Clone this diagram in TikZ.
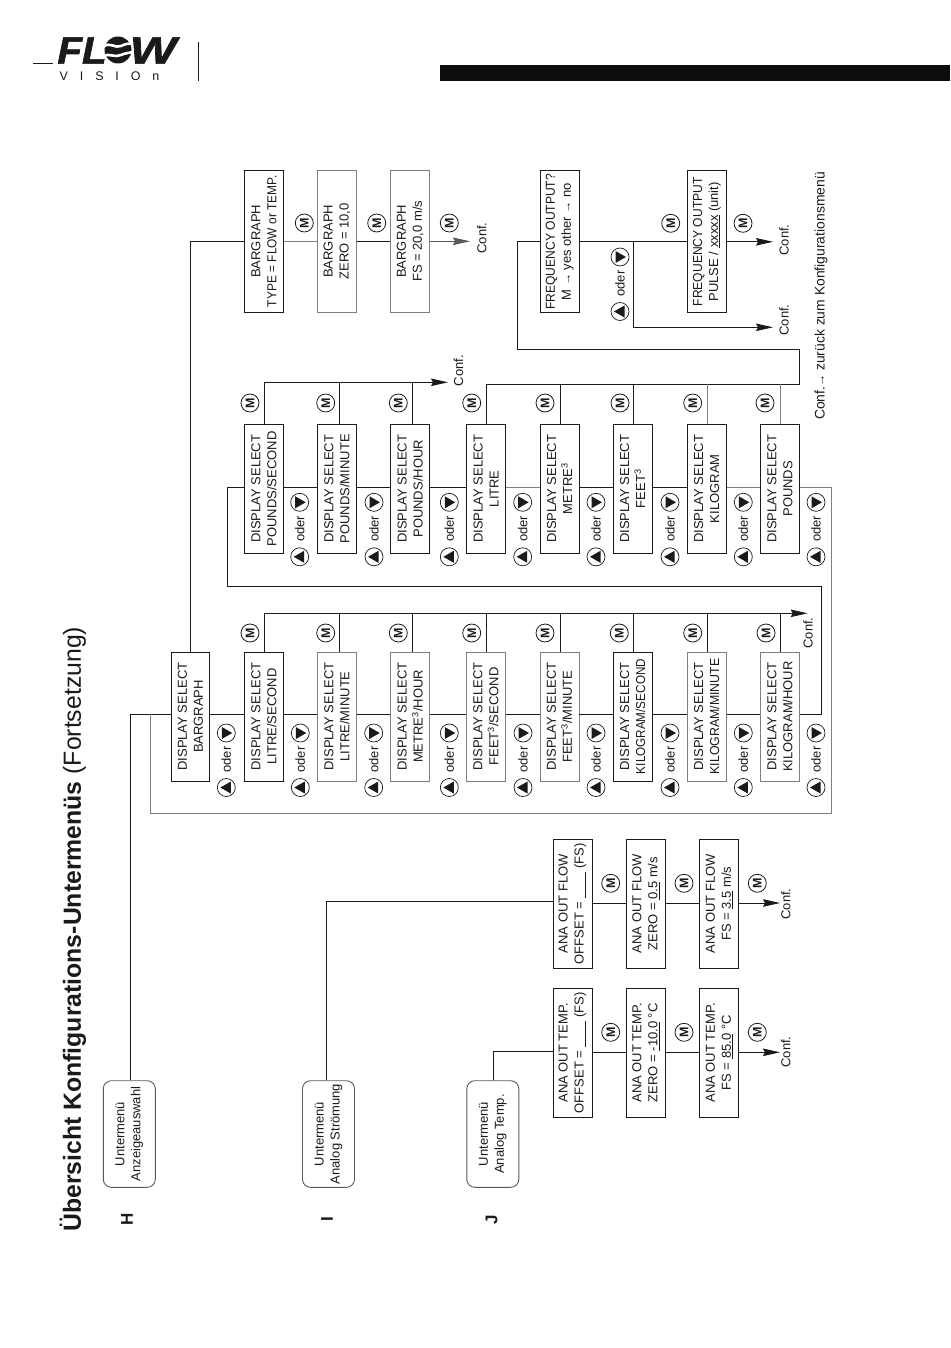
\documentclass[tikz,border=0pt]{standalone}
\usepackage{fontspec}
\usepackage{graphicx}
\setmainfont{Liberation Sans}
\newfontfamily\logofont[LetterSpace=95]{Liberation Sans}
\newfontfamily\logoheavy{Liberation Sans}[BoldItalicFeatures={FakeBold=1.6}]
\usetikzlibrary{arrows.meta,calc}
\definecolor{ink}{HTML}{1A1A1A}
\definecolor{soft}{HTML}{7F7F7F}
\newcommand\smallarrow{{\fontsize{12}{12}\selectfont →}}
\newcommand\narrowed[2]{\scalebox{#1}[1]{#2}}
\tikzset{
  x=1pt,y=-1pt,
  wire/.style={draw=ink,line width=0.9pt,line join=miter},
  softwire/.style={draw=soft,line width=1pt,line join=miter},
  confwire/.style={wire,-{Stealth[length=17pt,width=7.5pt,inset=2pt]}},
  labelbox/.style={rotate=90,draw=ink,line width=0.9pt,inner sep=0pt,align=center,text=ink,
    font=\fontsize{13}{16}\selectfont,minimum height=39pt,minimum width=129pt,fill=white},
  softbox/.style={labelbox,draw=soft},
  topbox/.style={minimum width=142pt},
  menubox/.style={labelbox,draw=soft!70!black,rounded corners=8pt,minimum height=52pt,minimum width=106.6pt,
    font=\fontsize{13}{16}\selectfont},
  mcircle/.style={circle,draw=ink,line width=0.8pt,minimum size=18pt,inner sep=0pt,rotate=90,
    font=\bfseries\fontsize{12.5}{12.5}\selectfont,text=ink},
  navcircle/.style={circle,draw=ink,line width=0.7pt,minimum size=18pt,inner sep=0pt},
  captiontext/.style={rotate=90,text=ink,inner sep=0pt,font=\fontsize{13}{16}\selectfont},
  lettertext/.style={rotate=90,text=ink,inner sep=0pt,font=\bfseries\fontsize{17}{17}\selectfont},
}
\newcommand\navpair[3]{%
  \node[navcircle] (#1r) at ({#2},{#3}) {};
  \fill[ink,shift={(#1r)}] (-4.5,-6) -- (6,0) -- (-4.5,6) -- cycle;
  \node[navcircle] (#1l) at ({#2},{#3+54.5}) {};
  \fill[ink,shift={(#1l)}] (4.5,-6) -- (-6,0) -- (4.5,6) -- cycle;
  \node[captiontext] (#1o) at ({#2},{#3+26.5}) {oder};
}
\begin{document}
\begin{tikzpicture}
\useasboundingbox (0,0) rectangle (950,1348);
% header
\fill[black!95] (440,65) rectangle (950,81);
\coordinate (logoa) at (33,63);
\coordinate (logob) at (53,63);
\draw[wire] (logoa) -- (logob);
\coordinate (sepa) at (198,42);
\coordinate (sepb) at (198,81);
\draw[wire] (sepa) -- (sepb);
\node[inner sep=0pt,text=ink,anchor=center,xscale=1.06,font=\logoheavy\bfseries\itshape\fontsize{38}{38}\selectfont] (logofl) at (82,50.5) {FL};
\node[inner sep=0pt,text=ink,anchor=center,xscale=1.3,font=\logoheavy\bfseries\itshape\fontsize{38}{38}\selectfont] (logow) at (153,50.5) {W};
\fill[ink] (118,50) ellipse (13.5 and 13.5);
\draw[white,line width=2.6pt] (103,47) .. controls (110,41) and (115,49) .. (121,46) .. controls (125,44) and (129,43) .. (133,44);
\draw[white,line width=2.6pt] (103,56) .. controls (109,53) and (115,58) .. (121,55) .. controls (125,53) and (129,53) .. (133,52);
\node[inner sep=0pt,text=ink,anchor=west,font=\logofont\fontsize{12.5}{12.5}\selectfont] (logov) at (59.5,76) {VISIOn};
\fill[ink] (177,40) circle (1);
% title and letters
\node[rotate=90,anchor=west,inner sep=0pt,text=ink,font=\fontsize{24.8}{24.8}\selectfont] (title) at (73,1232)
  {\textbf{Übersicht Konfigurations-Untermenüs} (Fortsetzung)};
\node[lettertext] (lh) at (127,1219.5) {H};
\node[lettertext] (li) at (327,1219.5) {I};
\node[lettertext] (lj) at (491.5,1219.5) {J};
% submenu boxes
\node[menubox] (uh) at (129.3,1134) {Untermenü\\Anzeigeauswahl};
\node[menubox] (ui) at (328.5,1134) {Untermenü\\Analog Strömung};
\node[menubox] (uj) at (492.8,1134) {Untermenü\\Analog Temp.};
% bargraph row
\node[labelbox,topbox] (g1) at (264,241.3) {BARGRAPH\\\narrowed{0.92}{TYPE = FLOW or TEMP.}};
\node[softbox,topbox] (g2) at (337,241.3) {BARGRAPH\\ZERO = 10,0};
\node[softbox,topbox] (g3) at (410.2,241.3) {BARGRAPH\\FS = 20,0 m/s};
% frequency
\node[labelbox,topbox] (f1) at (559.8,241.8) {\narrowed{0.93}{FREQUENCY OUTPUT?}\\M \smallarrow{} yes other \smallarrow{} no};
\node[labelbox,topbox] (f2) at (706.8,241.8) {\narrowed{0.93}{FREQUENCY OUTPUT}\\PULSE / \underline{xxxxx} (unit)};
% pounds row
\node[labelbox] (t1) at (264,488.8) {DISPLAY SELECT\\POUNDS/SECOND};
\node[labelbox] (t2) at (337,488.8) {DISPLAY SELECT\\POUNDS/MINUTE};
\node[labelbox] (t3) at (410.2,488.8) {DISPLAY SELECT\\POUNDS/HOUR};
\node[labelbox] (t4) at (486,488.8) {DISPLAY SELECT\\LITRE};
\node[labelbox] (t5) at (559.5,488.8) {DISPLAY SELECT\\METRE\textsuperscript{3}};
\node[labelbox] (t6) at (632.7,488.8) {DISPLAY SELECT\\FEET\textsuperscript{3}};
\node[labelbox] (t7) at (706.7,488.8) {DISPLAY SELECT\\KILOGRAM};
\node[labelbox] (t8) at (779.8,488.8) {DISPLAY SELECT\\POUNDS};
% litre row
\node[labelbox,minimum height=37.5pt] (ba) at (190.3,716.5) {DISPLAY SELECT\\BARGRAPH};
\node[labelbox] (b1) at (264,716.5) {DISPLAY SELECT\\LITRE/SECOND};
\node[softbox] (b2) at (337,716.5) {DISPLAY SELECT\\LITRE/MINUTE};
\node[softbox] (b3) at (410.2,716.5) {DISPLAY SELECT\\METRE\textsuperscript{3}/HOUR};
\node[softbox] (b4) at (486,716.5) {DISPLAY SELECT\\FEET\textsuperscript{3}/SECOND};
\node[softbox] (b5) at (559.5,716.5) {DISPLAY SELECT\\FEET\textsuperscript{3}/MINUTE};
\node[labelbox] (b6) at (632.7,716.5) {DISPLAY SELECT\\\narrowed{0.9}{KILOGRAM/SECOND}};
\node[softbox] (b7) at (706.7,716.5) {DISPLAY SELECT\\\narrowed{0.95}{KILOGRAM/MINUTE}};
\node[softbox] (b8) at (779.8,716.5) {DISPLAY SELECT\\KILOGRAM/HOUR};
% analog flow
\node[labelbox] (a1) at (572.5,903.8) {ANA OUT FLOW\\OFFSET = \underline{\hspace{26pt}} (FS)};
\node[labelbox] (a2) at (645.8,903.8) {ANA OUT FLOW\\ZERO = \underline{0.5} m/s};
\node[labelbox] (a3) at (719.3,903.8) {ANA OUT FLOW\\FS = \underline{3.5} m/s};
% analog temp
\node[labelbox] (c1) at (572.5,1052.8) {ANA OUT TEMP.\\OFFSET = \underline{\hspace{26pt}} (FS)};
\node[labelbox] (c2) at (645.8,1052.8) {ANA OUT TEMP.\\ZERO = \underline{-10.0} °C};
\node[labelbox] (c3) at (719.3,1052.8) {ANA OUT TEMP.\\FS = \underline{85.0} °C};
% reference coordinates
\coordinate (rowg) at (0,241.3);
\coordinate (rowf) at (0,241.8);
\coordinate (rowt) at (0,487.3);
\coordinate (rowb) at (0,714.3);
\coordinate (rowa) at (0,903);
\coordinate (rowc) at (0,1052.3);
% H trunk
\coordinate (htrunk) at (130.7,714.3);
\draw[wire] (uh.east -| htrunk) -- (htrunk) -- (ba.north |- htrunk);
\coordinate (bartrunk) at (190.3,241.3);
\draw[wire] (ba.east -| bartrunk) -- (bartrunk) -- (g1.north |- bartrunk);
% I, J trunks
\coordinate (itrunk) at (326.3,901);
\draw[wire] (ui.east -| itrunk) -- (itrunk) -- (a1.north |- itrunk);
\coordinate (jtrunk) at (493.3,1051.3);
\draw[wire] (uj.east -| jtrunk) -- (jtrunk) -- (c1.north |- jtrunk);
% bargraph chain
\draw[softwire] (g1.south |- rowg) -- (g2.north |- rowg);
\draw[wire] (g2.south |- rowg) -- (g3.north |- rowg);
\coordinate (gend) at (470,241.3);
\draw[confwire,draw=soft!70!black] (g3.south |- rowg) -- (gend);
\node[captiontext] (gconf) at (481.7,238) {Conf.};
% frequency chain
\coordinate (fin) at (517,241.8);
\coordinate (fbranch) at (633.3,241.8);
\coordinate (fcorner) at (633.3,327.3);
\coordinate (fend) at (773,327.3);
\coordinate (fend2) at (773,241.8);
\draw[wire] (f1.south |- rowf) -- (f2.north |- rowf);
\draw[confwire] (fbranch) -- (fcorner) -- (fend);
\draw[confwire] (f2.south |- rowf) -- (fend2);
\node[captiontext] (fconfa) at (784,240) {Conf.};
\node[captiontext] (fconfb) at (784,320) {Conf.};
\node[captiontext,font=\fontsize{13.9}{16}\selectfont] (backnote) at (821,296) {Conf.\smallarrow{} zurück zum Konfigurationsmenü};
% pounds chain
\draw[wire] (t1.south |- rowt) -- (t2.north |- rowt);
\draw[wire] (t2.south |- rowt) -- (t3.north |- rowt);
\draw[wire] (t3.south |- rowt) -- (t4.north |- rowt);
\draw[softwire] (t4.south |- rowt) -- (t5.north |- rowt);
\draw[wire] (t5.south |- rowt) -- (t6.north |- rowt);
\draw[wire] (t6.south |- rowt) -- (t7.north |- rowt);
\draw[softwire] (t7.south |- rowt) -- (t8.north |- rowt);
% litre chain
\draw[wire] (ba.south |- rowb) -- (b1.north |- rowb);
\draw[wire] (b1.south |- rowb) -- (b2.north |- rowb);
\draw[wire] (b2.south |- rowb) -- (b3.north |- rowb);
\draw[wire] (b3.south |- rowb) -- (b4.north |- rowb);
\draw[wire] (b4.south |- rowb) -- (b5.north |- rowb);
\draw[wire] (b5.south |- rowb) -- (b6.north |- rowb);
\draw[wire] (b6.south |- rowb) -- (b7.north |- rowb);
\draw[wire] (b7.south |- rowb) -- (b8.north |- rowb);
% outer loop
\coordinate (ola) at (150.3,714.3);
\coordinate (olb) at (150.3,813.3);
\coordinate (olc) at (831,813.3);
\coordinate (old) at (831,487.3);
\draw[softwire] (ola) -- (olb) -- (olc) -- (old) -- (t8.south |- old);
% inner loop
\coordinate (ila) at (821.7,714.3);
\coordinate (ilb) at (821.7,586);
\coordinate (ilc) at (227.7,586);
\coordinate (ild) at (227.7,487.3);
\draw[wire] (b8.south |- ila) -- (ila) -- (ilb) -- (ilc) -- (ild) -- (t1.north |- ild);
% litre bus
\coordinate (bbus) at (264.3,613.3);
\coordinate (bbusend) at (807.7,613.3);
\draw[confwire] (b1.east -| bbus) -- (bbus) -- (bbusend);
\foreach \n/\xx in {b2/339.3,b3/412.3,b4/486,b5/560.3,b6/633.3,b7/707.3,b8/780.3}{
  \coordinate (tap\n) at (\xx,613.3);
  \draw[wire] (tap\n) -- (\n.east -| tap\n);
}
\node[captiontext] (bconf) at (808,633) {Conf.};
% pounds bus
\coordinate (tbus) at (264.3,382.3);
\coordinate (tbusend) at (448,382.3);
\draw[confwire] (t1.east -| tbus) -- (tbus) -- (tbusend);
\foreach \n/\xx in {t2/339.3,t3/412.3}{
  \coordinate (tap\n) at (\xx,382.3);
  \draw[wire] (tap\n) -- (\n.east -| tap\n);
}
\node[captiontext] (tconf) at (458.5,370.5) {Conf.};
% second bus to frequency
\coordinate (sbus) at (486,384);
\coordinate (sbusr) at (799,384);
\coordinate (sbusu) at (799,349.3);
\coordinate (sbusl) at (517,349.3);
\draw[wire] (t4.east -| sbus) -- (sbus) -- (sbusr) -- (sbusu) -- (sbusl) -- (fin) -- (f1.north |- fin);
\foreach \n/\xx in {t5/560,t6/633.3}{
  \coordinate (tap\n) at (\xx,384);
  \draw[wire] (tap\n) -- (\n.east -| tap\n);
}
\foreach \n/\xx in {t7/707,t8/780.7}{
  \coordinate (tap\n) at (\xx,384);
  \draw[softwire] (tap\n) -- (\n.east -| tap\n);
}
% analog flow chain
\draw[wire] (a1.south |- rowa) -- (a2.north |- rowa);
\draw[wire] (a2.south |- rowa) -- (a3.north |- rowa);
\coordinate (aend) at (780,903);
\draw[confwire] (a3.south |- rowa) -- (aend);
\node[captiontext] (aconf) at (785.7,904) {Conf.};
% analog temp chain
\draw[wire] (c1.south |- rowc) -- (c2.north |- rowc);
\draw[wire] (c2.south |- rowc) -- (c3.north |- rowc);
\coordinate (cend) at (780,1052.3);
\draw[confwire] (c3.south |- rowc) -- (cend);
\node[captiontext] (cconf) at (785.7,1052) {Conf.};
% M circles
\node[mcircle] (mg1) at (304.3,223) {M};
\node[mcircle] (mg2) at (376.7,223) {M};
\node[mcircle] (mg3) at (449.3,223) {M};
\node[mcircle] (mf1) at (670.7,223.3) {M};
\node[mcircle] (mf2) at (743,223.3) {M};
\foreach \n/\xx in {1/250,2/325.7,3/398.3,4/471.7,5/545,6/620,7/692.7,8/765}{
  \node[mcircle] (mt\n) at (\xx,403) {M};
}
\foreach \n/\xx in {1/250,2/325.7,3/398.3,4/471.7,5/545,6/619.3,7/692.7,8/766}{
  \node[mcircle] (mb\n) at (\xx,633) {M};
}
\foreach \n/\xx in {1/610.7,2/684,3/757.3}{
  \node[mcircle] (ma\n) at (\xx,883.3) {M};
  \node[mcircle] (mc\n) at (\xx,1032.3) {M};
}
% up/down pairs
\foreach \n/\xx in {1/299.7,2/374,3/449.3,4/522.7,5/596,6/670,7/743.3,8/816}{
  \navpair{pt\n}{\xx}{502.3}
}
\foreach \n/\xx in {0/226.3,1/300.3,2/373.7,3/449.3,4/523,5/596,6/670,7/743.3,8/816}{
  \navpair{pb\n}{\xx}{733}
}
\navpair{pf}{620}{257}
\end{tikzpicture}
\end{document}
